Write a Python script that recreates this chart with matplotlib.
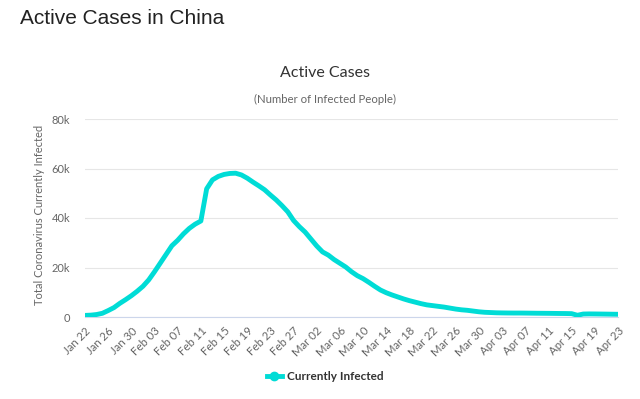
import matplotlib
matplotlib.use("Agg")
import matplotlib.pyplot as plt
from matplotlib.lines import Line2D

# ---- data ----
start_date = "2020-01-22"
active_cases = [
    650, 750, 1000, 1500, 2600, 3800, 5500, 7000, 8600, 10400,
    12400, 15000, 18300, 21800, 25300, 28800, 31000, 33600, 35800, 37500,
    38800, 51800, 55400, 56800, 57600, 58000, 58100, 57400, 56100, 54500,
    53000, 51400, 49300, 47300, 45000, 42500, 39000, 36500, 34300, 31500,
    28700, 26300, 25000, 23200, 21700, 20200, 18300, 16700, 15500, 14000,
    12400, 10900, 9800, 8900, 8100, 7300, 6600, 6000, 5400, 4900,
    4600, 4300, 4000, 3600, 3200, 2900, 2700, 2400, 2100, 1900,
    1800, 1700, 1650, 1620, 1600, 1600, 1580, 1550, 1520, 1500,
    1480, 1450, 1420, 1400, 1350, 700, 1200, 1250, 1230, 1200,
    1170, 1130, 1100,
]
tick_labels = ["Jan 22", "Jan 26", "Jan 30", "Feb 03", "Feb 07", "Feb 11",
               "Feb 15", "Feb 19", "Feb 23", "Feb 27", "Mar 02", "Mar 06",
               "Mar 10", "Mar 14", "Mar 18", "Mar 22", "Mar 26", "Mar 30",
               "Apr 03", "Apr 07", "Apr 11", "Apr 15", "Apr 19", "Apr 23"]
y_ticks = [0, 20000, 40000, 60000, 80000]
y_tick_labels = ["0", "20k", "40k", "60k", "80k"]
series_name = "Currently Infected"

LINE = "#00DCD6"
FONT = ["Lato", "DejaVu Sans"]

fig = plt.figure(figsize=(6.4, 3.99), dpi=100)
ax = fig.add_axes([85 / 640, 1 - 317 / 399, (618 - 85) / 640, (317 - 119) / 399])

days = list(range(len(active_cases)))
ax.plot(days, active_cases, color=LINE, lw=3.5, solid_capstyle="round",
        solid_joinstyle="round", zorder=3)

ax.set_xlim(0, len(active_cases) - 1)
ax.set_ylim(0, 80000)
ax.set_yticks(y_ticks)
ax.set_yticklabels(y_tick_labels, family=FONT, fontsize=8, color="#666666")
ax.set_xticks(list(range(0, len(active_cases), 4))[:len(tick_labels)])
ax.set_xticklabels(tick_labels, rotation=45, ha="right", rotation_mode="anchor",
                   family=FONT, fontsize=8.2, color="#666666")
ax.tick_params(axis="y", length=0, pad=10.5)
ax.tick_params(axis="x", length=0, pad=6)

ax.grid(axis="y", color="#e6e6e6", lw=0.8)
ax.set_axisbelow(True)
for s in ["top", "right", "left"]:
    ax.spines[s].set_visible(False)
ax.spines["bottom"].set_color("#ccd6eb")
ax.spines["bottom"].set_linewidth(0.8)

fig.text(40 / 640, 1 - 215 / 399, "Total Coronavirus Currently Infected", rotation=90,
         ha="center", va="center", family=FONT, fontsize=8, color="#666666")

fig.text(20 / 640, 1 - 19 / 399, "Active Cases in China", ha="left", va="center",
         family=["Liberation Sans", "DejaVu Sans"], fontsize=15, color="#222222")
fig.text(325 / 640, 1 - 73 / 399, "Active Cases", ha="center", va="center",
         family=FONT, fontsize=11.5, color="#333333")
fig.text(325 / 640, 1 - 99 / 399, "(Number of Infected People)", ha="center", va="center",
         family=FONT, fontsize=8.2, color="#666666")

handle = Line2D([0], [0], color=LINE, lw=3.5, marker="o", markersize=6,
                markerfacecolor=LINE, markeredgecolor=LINE)
leg = fig.legend([handle], [series_name], loc="center", bbox_to_anchor=(325 / 640, 1 - 377 / 399),
                 frameon=False, handlelength=1.3, handletextpad=0.4,
                 prop={"family": FONT, "size": 8.5, "weight": "bold"})
for t in leg.get_texts():
    t.set_color("#333333")

fig.savefig("out.png", dpi=100)
